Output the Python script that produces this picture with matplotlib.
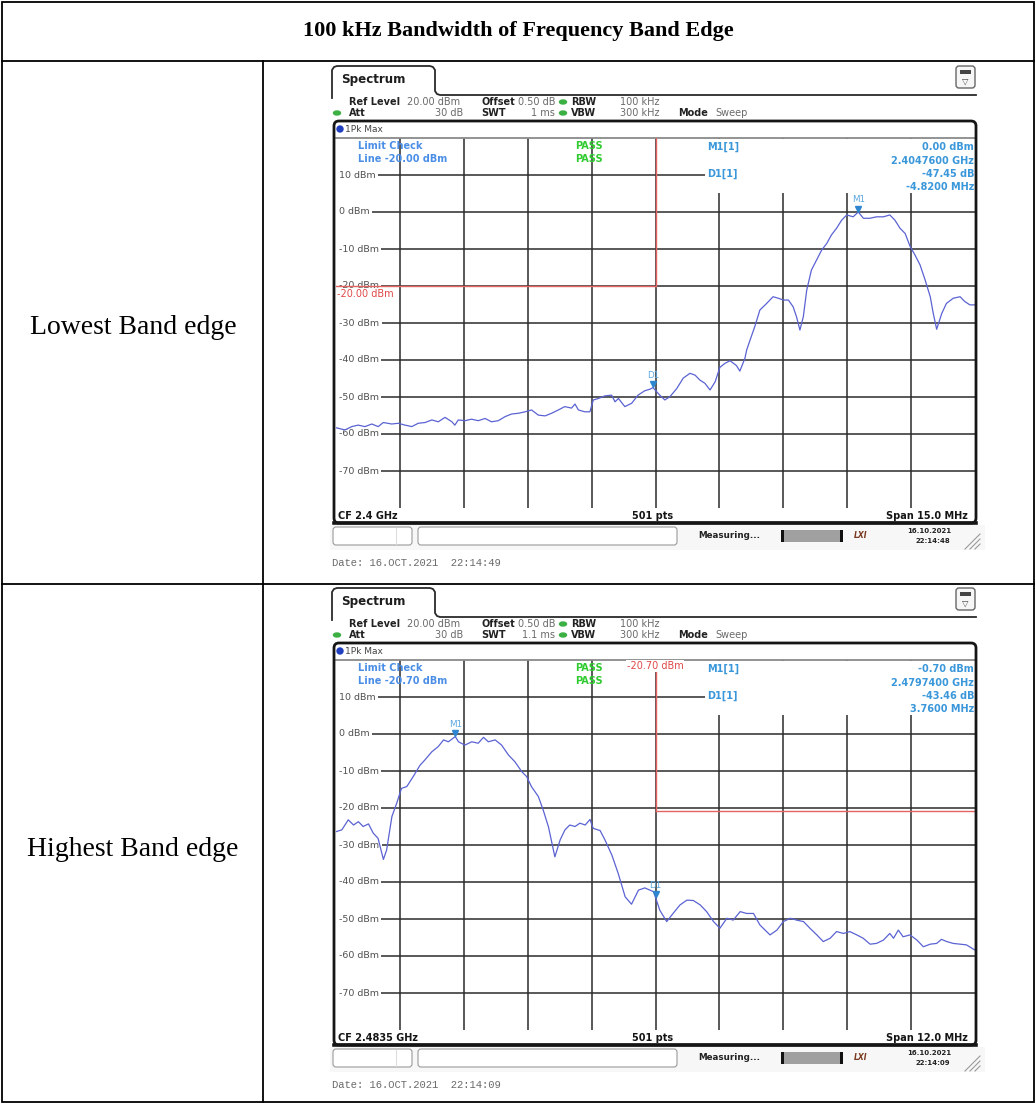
import numpy as np
import matplotlib.pyplot as plt
import matplotlib.transforms as mtransforms
from matplotlib.patches import Rectangle, FancyBboxPatch, Circle, Ellipse

W, H = 1036, 1104

title = "100 kHz Bandwidth of Frequency Band Edge"
row_labels = ["Lowest Band edge", "Highest Band edge"]
level_ticks = [10, 0, -10, -20, -30, -40, -50, -60, -70]

# sweep 1 (CF 2.4 GHz, span 15 MHz), x = MHz from left edge of the screen
low_off_mhz = [0.00, 0.21, 0.37, 0.52, 0.68, 0.84, 0.99, 1.11, 1.31, 1.46, 1.62, 1.78,
               1.93, 2.09, 2.25, 2.40, 2.56, 2.72, 2.79, 2.87, 3.03, 3.18, 3.34, 3.50,
               3.65, 3.81, 3.97, 4.12, 4.28, 4.44, 4.59, 4.75, 4.91, 5.06, 5.22, 5.37,
               5.53, 5.61, 5.69, 5.84, 5.96, 6.04, 6.16, 6.31, 6.47, 6.55, 6.63, 6.78,
               6.94, 7.09, 7.25, 7.37, 7.44, 7.60, 7.72, 7.84, 8.00, 8.15, 8.31, 8.43,
               8.54, 8.66, 8.78, 8.90, 9.01, 9.13, 9.25, 9.40, 9.48, 9.60, 9.64, 9.72,
               9.83, 9.95, 10.11, 10.26, 10.38, 10.50, 10.62, 10.73, 10.81, 10.89, 10.97,
               11.05, 11.16, 11.28, 11.40, 11.52, 11.63, 11.75, 11.87, 11.99, 12.14,
               12.26, 12.38, 12.53, 12.69, 12.85, 13.00, 13.12, 13.24, 13.36, 13.48,
               13.59, 13.71, 13.83, 13.95, 14.02, 14.10, 14.22, 14.33, 14.49, 14.65,
               14.76, 14.88, 15.00]
low_dbm = [-58.3, -58.9, -58.0, -57.6, -58.0, -57.3, -58.0, -56.9, -57.3, -57.1, -57.6, -58.0,
           -57.1, -56.9, -56.2, -56.7, -55.5, -56.7, -57.6, -56.2, -56.4, -56.0, -56.4, -55.8,
           -56.7, -56.4, -55.3, -54.6, -54.4, -54.0, -53.5, -54.9, -55.1, -54.4, -53.5, -52.6,
           -53.0, -51.9, -53.5, -54.0, -54.0, -50.8, -50.4, -49.7, -49.5, -51.3, -50.4, -52.6,
           -51.7, -49.5, -48.3, -47.9, -47.45, -49.5, -50.8, -49.9, -47.7, -44.9, -43.6, -44.1,
           -45.4, -46.3, -48.1, -45.9, -42.0, -40.9, -40.2, -41.5, -43.0, -39.5, -37.3, -34.6,
           -31.0, -26.5, -24.7, -22.9, -23.3, -23.8, -23.8, -25.6, -28.3, -31.9, -28.3,
           -21.1, -15.7, -13.0, -10.3, -8.5, -6.2, -4.4, -2.2, -0.8, -1.3,
           0.0, -1.7, -1.7, -1.3, -1.3, -0.8, -2.2, -4.4, -5.8, -9.4,
           -11.6, -14.3, -18.4, -22.9, -27.4, -31.7, -27.4, -24.7, -23.3, -22.9,
           -24.2, -25.1, -25.1]

# sweep 2 (CF 2.4835 GHz, span 12 MHz)
high_off_mhz = [0.00, 0.11, 0.23, 0.33, 0.42, 0.51, 0.61, 0.70, 0.79, 0.89, 0.95, 1.05,
                1.14, 1.23, 1.33, 1.45, 1.58, 1.67, 1.80, 1.92, 2.02, 2.11, 2.24, 2.30,
                2.42, 2.55, 2.67, 2.77, 2.86, 2.99, 3.11, 3.24, 3.36, 3.49, 3.58, 3.67,
                3.80, 3.89, 3.99, 4.11, 4.21, 4.30, 4.39, 4.49, 4.58, 4.68, 4.77, 4.83,
                4.96, 5.05, 5.18, 5.30, 5.43, 5.55, 5.68, 5.80, 5.96, 6.00, 6.08, 6.21,
                6.33, 6.46, 6.59, 6.71, 6.84, 6.96, 7.09, 7.21, 7.34, 7.46, 7.59, 7.71,
                7.84, 7.96, 8.15, 8.28, 8.40, 8.53, 8.65, 8.78, 8.90, 9.03, 9.15, 9.28,
                9.40, 9.53, 9.65, 9.78, 9.90, 10.03, 10.15, 10.28, 10.40, 10.47, 10.56,
                10.65, 10.78, 10.91, 11.03, 11.16, 11.28, 11.37, 11.47, 11.59, 11.72,
                11.84, 12.00]
high_dbm = [-26.4, -25.9, -23.2, -24.6, -23.7, -25.0, -24.3, -26.8, -28.2, -33.9, -31.4, -22.3,
            -18.7, -14.7, -14.2, -11.5, -8.4, -7.0, -4.8, -3.4, -1.6, -2.1, -0.70, -2.1,
            -3.0, -2.1, -2.5, -0.9, -2.1, -1.6, -3.0, -5.7, -7.5, -10.2, -11.5, -14.2,
            -16.9, -20.5, -25.1, -33.2, -28.6, -25.9, -24.6, -25.0, -24.1, -24.6, -23.1, -25.5,
            -26.1, -28.6, -32.7, -37.7, -44.0, -46.0, -42.2, -41.6, -42.6, -44.16, -47.6, -50.7,
            -48.5, -46.2, -44.9, -45.0, -46.2, -48.0, -50.7, -52.5, -49.8, -50.3, -48.0, -48.5,
            -48.5, -51.6, -54.3, -53.0, -50.7, -49.8, -50.3, -50.7, -52.5, -54.3, -56.1, -55.2,
            -53.4, -53.9, -53.4, -54.3, -55.2, -56.8, -56.6, -55.7, -53.9, -55.2, -53.0,
            -54.8, -54.3, -55.7, -57.5, -56.8, -56.6, -55.5, -56.1, -56.6, -56.8,
            -57.0, -58.4]

traces = [(low_off_mhz, low_dbm), (high_off_mhz, high_dbm)]
span_mhz = [15.0, 12.0]
cf_text = ["CF 2.4 GHz", "CF 2.4835 GHz"]
span_text = ["Span 15.0 MHz", "Span 12.0 MHz"]
swt_text = ["1 ms", "1.1 ms"]
limit_dbm = [-20.00, -20.70]
limit_edge_mhz = [7.5, 6.0]
m1_mhz = [12.26, 2.24]
m1_dbm = [0.00, -0.70]
d1_mhz = [7.44, 6.00]
d1_dbm = [-47.45, -44.16]
m1_text = [("0.00 dBm", "2.4047600 GHz"), ("-0.70 dBm", "2.4797400 GHz")]
d1_text = [("-47.45 dB", "-4.8200 MHz"), ("-43.46 dB", "3.7600 MHz")]
status_clock = ["22:14:48", "22:14:09"]
date_clock = ["22:14:49", "22:14:09"]

GRID = '#2b2b2b'
TRACE = '#5b63d3'
LIMIT = '#e46464'
MBLUE = '#3a97da'
LBLUE = '#4a8ee6'
PASSG = '#2fcb2f'

fig = plt.figure(figsize=(W / 100, H / 100), dpi=100)


def px_axes(x0, y0, x1, y1):
    return fig.add_axes([x0 / W, 1 - y1 / H, (x1 - x0) / W, (y1 - y0) / H])


def draw_screen(i, dy):
    off, dbm = traces[i]
    span = span_mhz[i]
    ax = px_axes(336, 138 + dy, 975, 508 + dy)
    ax.set_xlim(0, span)
    ax.set_ylim(-80, 20)
    ax.axis('off')
    for v in np.linspace(0, span, 11)[1:-1]:
        ax.axvline(v, color=GRID, lw=1.1, zorder=1)
    for lv in level_ticks:
        ax.axhline(lv, xmin=0.012, color=GRID, lw=1.1, zorder=1)
    ax.axhline(20, color='#8a8a8a', lw=1.3, zorder=1, clip_on=False)
    # marker readout area covers the grid
    ax.add_patch(Rectangle((0.578, 0.852), 0.43, 0.144, transform=ax.transAxes,
                           fc='white', ec='none', zorder=1.5))
    ytr = mtransforms.blended_transform_factory(ax.transAxes, ax.transData)
    for lv in level_ticks:
        ax.text(0.005, lv, f"{lv} dBm", transform=ytr, ha='left', va='center',
                fontsize=6.8, color='#505050', zorder=2,
                bbox=dict(fc='white', ec='none', pad=1.6))

    lim, edge = limit_dbm[i], limit_edge_mhz[i]
    if i == 0:
        ax.plot([0, edge], [lim, lim], color=LIMIT, lw=1.0, zorder=2.5)
    else:
        ax.plot([edge, span], [lim, lim], color=LIMIT, lw=1.0, zorder=2.5)
    ax.plot([edge, edge], [lim, 20], color=LIMIT, lw=1.0, zorder=2.5)

    ax.plot(off, dbm, color=TRACE, lw=0.9, zorder=3)

    tr = mtransforms.offset_copy(ax.transData, fig=fig, y=2.5, units='points')
    for name, f, lv in [("M1", m1_mhz[i], m1_dbm[i]), ("D1", d1_mhz[i], d1_dbm[i])]:
        ax.plot([f], [lv], marker='v', ms=4.5, color='#2f86d0', ls='none',
                transform=tr, zorder=5)
        ax.annotate(name, (f, lv), xytext=(0, 5.5), textcoords='offset points',
                    ha='center', va='bottom', fontsize=6.3, color='#5aa8e0', zorder=5)


def draw_frame(i, dy):
    fg.plot([332, 332, 334, 337, 430, 433, 435, 435, 437, 440, 976],
            np.array([98, 70, 67, 66, 66, 67, 70, 91, 94, 95, 95]) + dy,
            color='#2a2a2a', lw=1.3)
    fg.text(341, 80 + dy, "Spectrum", fontsize=8.6, fontweight='bold',
            color='#1e1e1e', va='center')
    fg.add_patch(FancyBboxPatch((956, 66 + dy), 19, 22,
                                boxstyle='round,pad=0,rounding_size=3',
                                ec='#666666', fc='#f6f6f6', lw=1))
    fg.add_patch(Rectangle((960, 70 + dy), 11, 4, fc='#444444', ec='none'))
    fg.text(965.5, 81 + dy, "\u25bd", fontsize=6, color='#444444', ha='center', va='center')

    hb = dict(fontsize=7, fontweight='bold', color='#222222', va='center')
    hv = dict(fontsize=7, color='#6a6a6a', va='center')
    y1, y2 = 102 + dy, 113 + dy
    fg.text(349, y1, "Ref Level", **hb)
    fg.text(407, y1, "20.00 dBm", **hv)
    fg.text(481, y1, "Offset", **hb)
    fg.text(555, y1, "0.50 dB", ha='right', **hv)
    fg.text(571, y1, "RBW", **hb)
    fg.text(620, y1, "100 kHz", **hv)
    fg.text(349, y2, "Att", **hb)
    fg.text(463, y2, "30 dB", ha='right', **hv)
    fg.text(481, y2, "SWT", **hb)
    fg.text(555, y2, swt_text[i], ha='right', **hv)
    fg.text(571, y2, "VBW", **hb)
    fg.text(620, y2, "300 kHz", **hv)
    fg.text(678, y2, "Mode", **hb)
    fg.text(715, y2, "Sweep", **hv)
    for (gx, gy) in [(563, y1), (337, y2), (563, y2)]:
        fg.add_patch(Ellipse((gx, gy), 7, 4, color='#3cb043'))

    fg.add_patch(FancyBboxPatch((334, 121 + dy), 642, 402,
                                boxstyle='round,pad=0,rounding_size=5',
                                fc='none', ec='#151515', lw=2))
    fg.plot([334, 976], [523 + dy, 523 + dy], color='#151515', lw=2.6)
    fg.add_patch(Circle((340, 129 + dy), 3, color='#1f3fbf'))
    fg.text(345, 129 + dy, "1Pk Max", fontsize=6.5, color='#444444', va='center')

    lb = dict(fontsize=7, fontweight='bold', color=LBLUE, va='center')
    fg.text(358, 146 + dy, "Limit Check", **lb)
    fg.text(358, 159 + dy, f"Line {limit_dbm[i]:.2f} dBm", **lb)
    pg = dict(fontsize=7, fontweight='bold', color=PASSG, va='center')
    fg.text(575, 146 + dy, "PASS", **pg)
    fg.text(575, 159 + dy, "PASS", **pg)
    lab = f"{limit_dbm[i]:.2f} dBm"
    if i == 0:
        fg.text(337, 294 + dy, lab, fontsize=7, color='#e04848', va='center',
                bbox=dict(fc='white', ec='none', pad=0.5))
    else:
        fg.text(655, 144 + dy, lab, fontsize=7, color='#e04848', va='center', ha='center',
                bbox=dict(fc='white', ec='none', pad=0.5))

    mb = dict(fontsize=7, fontweight='bold', color=MBLUE, va='center')
    fg.text(707, 147 + dy, "M1[1]", **mb)
    fg.text(707, 174 + dy, "D1[1]", **mb)
    fg.text(974, 147 + dy, m1_text[i][0], ha='right', **mb)
    fg.text(974, 160.5 + dy, m1_text[i][1], ha='right', **mb)
    fg.text(974, 174 + dy, d1_text[i][0], ha='right', **mb)
    fg.text(974, 187 + dy, d1_text[i][1], ha='right', **mb)

    bb = dict(fontsize=7, fontweight='bold', color='#151515', va='center')
    fg.text(338, 516 + dy, cf_text[i], **bb)
    fg.text(653, 516 + dy, "501 pts", ha='center', **bb)
    fg.text(968, 516 + dy, span_text[i], ha='right', **bb)

    # status bar
    fg.add_patch(Rectangle((330, 525 + dy), 655, 25, fc='#f7f7f7', ec='none'))
    for x0, x1 in [(333, 412), (418, 677)]:
        fg.add_patch(FancyBboxPatch((x0, 527 + dy), x1 - x0, 18,
                                    boxstyle='round,pad=0,rounding_size=3',
                                    fc='white', ec='#9a9a9a', lw=0.8))
    fg.plot([396, 396], [528 + dy, 544 + dy], color='#dddddd', lw=0.8)
    fg.text(698, 536 + dy, "Measuring...", fontsize=6.3, fontweight='bold',
            color='#222222', va='center')
    fg.add_patch(Rectangle((781, 530 + dy), 62, 12, fc='#a0a0a0', ec='none'))
    for x0 in (781, 840):
        fg.add_patch(Rectangle((x0, 530 + dy), 3, 12, fc='#111111', ec='none'))
    fg.text(861, 536 + dy, "LXI", fontsize=5.5, fontweight='bold', style='italic',
            color='#7a3a20', ha='center', va='center')
    fg.text(929, 531 + dy, "16.10.2021", fontsize=5, fontweight='bold',
            color='#222222', ha='center', va='center')
    fg.text(950, 541 + dy, status_clock[i], fontsize=5, fontweight='bold',
            color='#222222', ha='right', va='center')
    for k in range(3):
        fg.plot([965 + 5 * k, 980], [549 + dy, 534 + 5 * k + dy], color='#9a9a9a', lw=0.8)

    fg.text(332, 563 + dy, f"Date: 16.OCT.2021  {date_clock[i]}", fontsize=7.6,
            family='Liberation Mono', color='#6a6a6a', va='center')


for i, dy in enumerate([0, 522]):
    draw_screen(i, dy)

fg = px_axes(0, 0, W, H)
fg.set_xlim(0, W)
fg.set_ylim(H, 0)
fg.axis('off')

# table
fg.add_patch(Rectangle((2, 2), W - 4, H - 4, fc='none', ec='black', lw=1.3))
fg.plot([2, W - 2], [61, 61], color='black', lw=1.3)
fg.plot([2, W - 2], [584, 584], color='black', lw=1.3)
fg.plot([263, 263], [61, H - 2], color='black', lw=1.3)
fg.text(518, 31, title, family='Liberation Serif', fontweight='bold', fontsize=16,
        ha='center', va='center')
for i, dy in enumerate([0, 522]):
    fg.text(133, 327 + dy, row_labels[i], family='Liberation Serif', fontsize=20,
            ha='center', va='center')
    draw_frame(i, dy)

fig.savefig('out.png', dpi=100)
